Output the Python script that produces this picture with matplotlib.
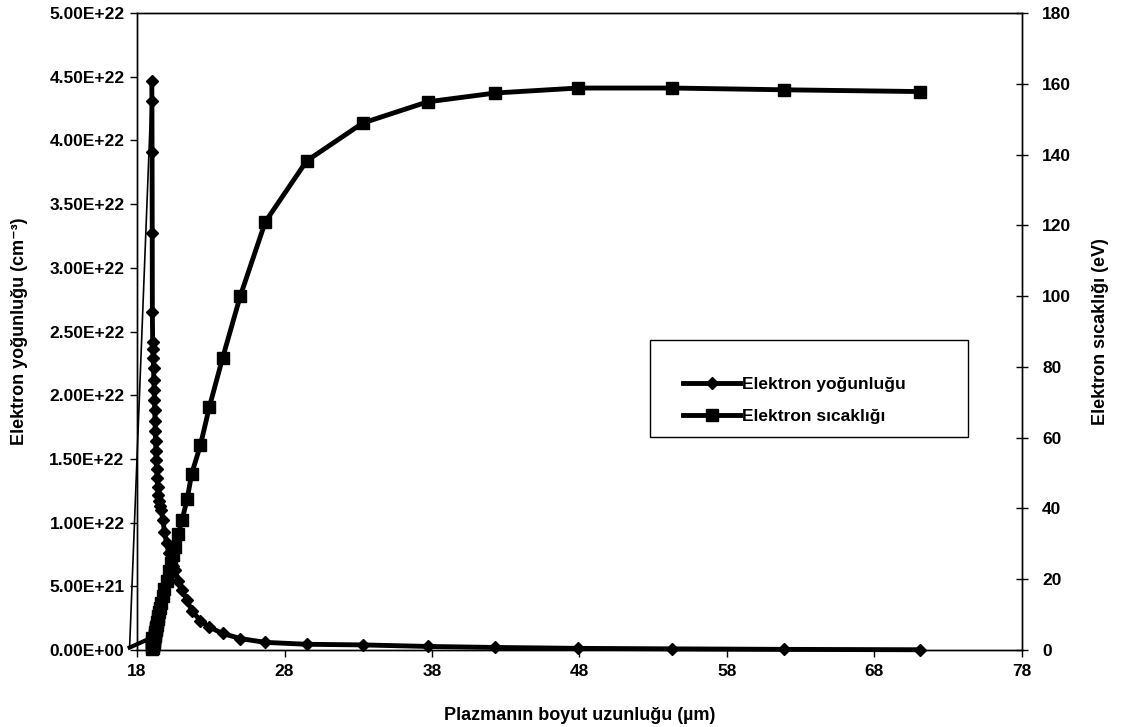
import numpy as np
import matplotlib
matplotlib.use("Agg")
import matplotlib.pyplot as plt
from matplotlib.ticker import FuncFormatter
from matplotlib.patches import Rectangle

plt.rcParams['font.family'] = ['Liberation Sans', 'DejaVu Sans']
plt.rcParams['font.weight'] = 'bold'

# ortak x ekseni (um)
x_um = [17.50, 19.00, 19.01, 19.02, 19.03, 19.04, 19.06, 19.08, 19.10, 19.12,
        19.14, 19.16, 19.18, 19.20, 19.22, 19.24, 19.26, 19.28, 19.30, 19.33,
        19.36, 19.40, 19.45, 19.50, 19.57, 19.65, 19.75, 19.86, 20.00, 20.15,
        20.30, 20.45, 20.60, 20.80, 21.05, 21.40, 21.70, 22.30, 22.90, 23.80,
        25.00, 26.70, 29.50, 33.30, 37.70, 42.30, 47.90, 54.30, 61.90, 71.10]

# elektron yogunlugu (1e22 cm^-3)
yogunluk = [0.03, 4.47, 4.31, 3.91, 3.27, 2.65, 2.42, 2.36, 2.29, 2.21,
            2.12, 2.04, 1.96, 1.88, 1.80, 1.72, 1.64, 1.56, 1.49, 1.42,
            1.35, 1.28, 1.22, 1.17, 1.13, 1.10, 1.02, 0.93, 0.84, 0.76,
            0.70, 0.66, 0.625, 0.54, 0.47, 0.39, 0.31, 0.23, 0.18, 0.13,
            0.09, 0.06, 0.045, 0.04, 0.028, 0.02, 0.013, 0.009, 0.005, 0.002]

# elektron sicakligi (eV)
sicaklik = [0.7, 3.5, 2.4, 1.5, 0.8, 0.4, 0.6, 1.0, 1.5, 2.0,
            2.5, 3.0, 3.5, 4.0, 4.6, 5.1, 5.6, 6.1, 6.6, 7.2,
            7.9, 8.7, 9.6, 10.6, 11.9, 13.4, 15.2, 17.2, 19.6, 22.2,
            24.6, 26.8, 29.0, 32.9, 36.7, 42.6, 49.7, 57.9, 68.6, 82.5,
            100.0, 121.0, 138.2, 148.9, 154.9, 157.4, 158.8, 158.8, 158.3, 157.8]

x = np.array(x_um)
n = np.array(yogunluk) * 1e22
T = np.array(sicaklik)

fig = plt.figure(figsize=(11.25, 7.27), dpi=100)
ax = fig.add_axes([0.1218, 0.1059, 0.7866, 0.8762])
ax2 = ax.twinx()

# eksen disindaki ilk nokta: markersiz
ax.plot(x[:2], n[:2], color='black', lw=1.2, clip_on=False)
ax2.plot(x[:2], T[:2], color='black', lw=3.0, clip_on=False)
l1, = ax.plot(x[1:], n[1:], color='black', lw=3.5, marker='D', ms=6,
              clip_on=False, label='Elektron yoğunluğu')
l2, = ax2.plot(x[1:], T[1:], color='black', lw=3.5, marker='s', ms=8,
               clip_on=False, label='Elektron sıcaklığı')

ax.set_xlim(18, 78)
ax.set_ylim(0, 5e22)
ax2.set_ylim(0, 180)
ax.set_xticks(np.arange(18, 79, 10))
ax.set_yticks(np.arange(0, 5.01e22, 0.5e22))
ax2.set_yticks(np.arange(0, 181, 20))
ax.yaxis.set_major_formatter(FuncFormatter(lambda v, p: '{:.2E}'.format(v)))

ax.tick_params(axis='y', labelsize=12.5, direction='out', length=5, width=1, pad=4)
ax.tick_params(axis='x', labelsize=12.5, direction='out', length=5, width=1, pad=5)
ax2.tick_params(axis='y', labelsize=12.5, direction='inout', length=9, width=1, pad=10)
for a in (ax, ax2):
    for s in a.spines.values():
        s.set_linewidth(1)
        s.set_color('black')

ax.set_xlabel('Plazmanın boyut uzunluğu (µm)', fontsize=13, fontweight='bold',
              labelpad=20)
ax.set_ylabel('Elektron yoğunluğu (cm\u207b\u00b3)', fontsize=13,
              fontweight='bold', labelpad=15)
ax2.set_ylabel('Elektron sıcaklığı (eV)', fontsize=13, fontweight='bold',
               labelpad=15)

# legend cercevesi
ax2.add_patch(Rectangle((0.5797, 0.3344), 0.359, 0.1523, transform=ax2.transAxes,
                        facecolor='white', edgecolor='black', lw=1, zorder=4,
                        clip_on=False))
leg = ax2.legend(handles=[l1, l2], loc='center left',
                 bbox_to_anchor=(0.617, 0.392), fontsize=12.5, frameon=False,
                 handlelength=3.3, handletextpad=0.1, borderpad=0,
                 labelspacing=1.0, borderaxespad=0)
leg.set_zorder(5)

fig.savefig('out.png', dpi=100)
